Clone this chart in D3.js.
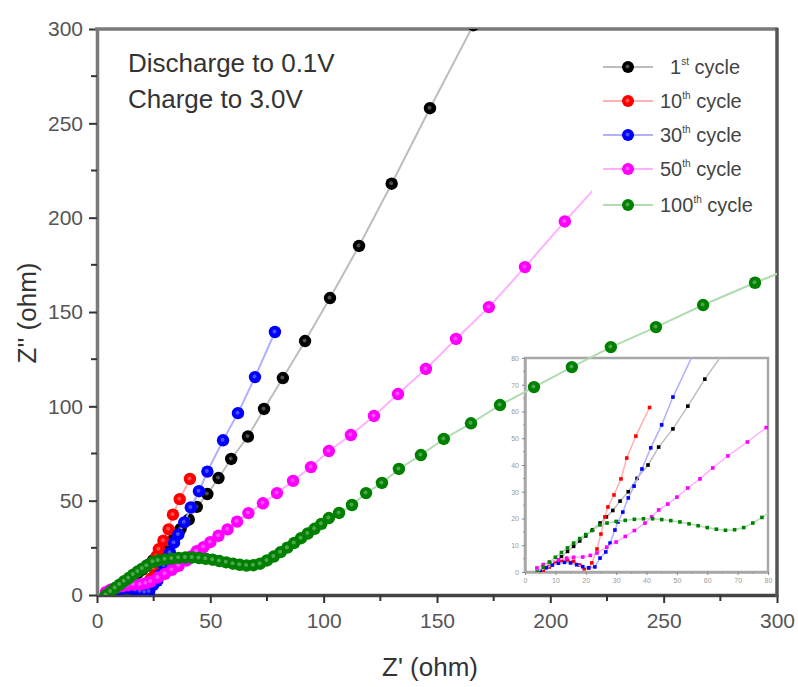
<!DOCTYPE html>
<html><head><meta charset="utf-8">
<script src="https://cdn.jsdelivr.net/npm/d3@7"></script>
<style>body{margin:0;background:#fff}svg{display:block;font-family:"Liberation Sans",Arial,sans-serif}</style>
</head><body><svg id="c" width="798" height="687"></svg>
<script>
const seriesNames = ["1st cycle","10th cycle","30th cycle","50th cycle","100th cycle"];
const legendNum = ["1","10","30","50","100"];
const legendSup = ["st","th","th","th","th"];
const colors = ["#000000","#ff0000","#0000ff","#ff00ff","#008000"];
const lineColors = ["#bdbdbd","#ffb0b0","#b0b0ff","#ffb0ff","#b0dcb0"];
const cycle1X = [6,8,10,12,14,16,18,20,22.3,24.7,26.8,28.9,31.3,34,36.9,40.5,44,48.7,53.6,59.2,66.6,73.7,82,91.8,102.8,115.6,130,146.9,166];
const cycle1Y = [0.5,2,3.8,5.7,7.7,9.6,11.6,13.5,15.8,18.3,20.6,23,26.5,30,35,40,46.7,53.5,62,72.1,84,98.6,115,134.6,157.4,185,218,258,302];
const cycle10X = [6,8,10,12,14,16,18,19.5,21,22,23.7,25,26.3,27.3,29.3,31.6,33.5,36.5,41];
const cycle10Y = [0.5,2,3.7,4.3,4.5,4,2.6,1.2,1.5,3.4,8.6,14.2,20.6,24.3,28.8,34.8,42.6,50.8,61.5];
const cycle30X = [5,7,9,11,13,15,17,19,21,23,24.7,26.6,28,29.6,30.6,32.2,34,35.9,38.5,41.4,45,48.7,55.6,62.2,69.7,78.5];
const cycle30Y = [0.5,1.6,2.6,3.3,3.6,3.4,2.7,2,1.6,1.9,5.2,7.5,10.8,15.7,18.7,22.4,27.7,32.1,38.5,46.4,55,65.4,82,96.4,115.5,139.4];
const cycle50X = [3.9,6,8.2,11,13.7,16,19,21.5,23.7,26.9,30,33,36,39.5,41.7,44,47,50,53.6,57.6,61.8,66.8,73.2,79.4,86.5,94.4,102.3,112,122.2,132.8,145.1,158.4,172.9,188.8,206.4,226];
const cycle50Y = [1.5,2.8,3.7,4.6,5.2,5.5,5.6,6.2,7.1,9.3,11.2,13.3,15.5,18.3,20.6,23.2,25.4,28,31.4,34.8,38.9,43.4,48.6,54,60.5,67.8,76.3,84.8,94.9,106.5,119.8,135.7,152.6,173.8,198,224];
const cycle100X = [4,6,8,10,12,14,16,18,20,22,24.7,27,30,33,36,39,42,45,48,51,54,57,60,63,66,69,72,75,78,81,84,87,90,93,96,99,102.3,106.8,112.5,118.7,125.7,133.2,142.9,153,165,177.8,192.8,209.5,226.7,246.6,267.4,290.3,316];
const cycle100Y = [0,1.8,3.7,5.5,7.3,9,10.8,12.5,14,15.5,17.6,18.3,18.9,19.3,19.7,19.9,19.9,19.6,19.2,18.7,18,17.3,16.6,16,15.6,15.8,16.6,18.3,20.4,22.7,25.1,27.6,30.1,32.6,35.1,37.7,40.8,43.5,47.7,54,59.4,66.8,74.2,82.7,91,100.7,110.2,120.8,131.4,142,153.7,165.5,178];
const mainTicks = [0,50,100,150,200,250,300];
const minorTicks = [25,75,125,175,225,275];
const insetTicks = [0,10,20,30,40,50,60,70,80];
const annotation = ["Discharge to 0.1V","Charge to 3.0V"];

const xs = [cycle1X,cycle10X,cycle30X,cycle50X,cycle100X];
const ys = [cycle1Y,cycle10Y,cycle30Y,cycle50Y,cycle100Y];
const data = xs.map((xa,i)=>xa.map((v,j)=>({x:v,y:ys[i][j]})));

const svg = d3.select("#c");
const x = d3.scaleLinear().domain([0,300]).range([97,777]);
const y = d3.scaleLinear().domain([0,300]).range([595,29]);
const ix = d3.scaleLinear().domain([0,80]).range([525,768]);
const iy = d3.scaleLinear().domain([0,80]).range([572,358]);

const defs = svg.append("defs");
defs.append("clipPath").attr("id","mc").append("rect").attr("x",97).attr("y",29).attr("width",680).attr("height",566);
defs.append("clipPath").attr("id","ic").append("rect").attr("x",525).attr("y",358).attr("width",243).attr("height",214);

// ---- inset ----
const ins = svg.append("g");
ins.append("rect").attr("x",525).attr("y",358).attr("width",243).attr("height",214).attr("fill","#fff").attr("stroke","#a8a8a8").attr("stroke-width",2.5);
const iax = ins.append("g").attr("transform","translate(0,572)").call(d3.axisBottom(ix).tickValues(insetTicks).tickSize(3).tickSizeOuter(0));
const iay = ins.append("g").attr("transform","translate(525,0)").call(d3.axisLeft(iy).tickValues(insetTicks).tickSize(3).tickSizeOuter(0));
[iax,iay].forEach(g=>{g.select(".domain").attr("stroke","#a8a8a8").attr("stroke-width",2.5);
  g.selectAll(".tick line").attr("stroke","#888");
  g.selectAll(".tick text").attr("fill","#999").attr("font-size",7);});
const iminor = d3.range(5,80,10);
ins.append("g").selectAll("line").data(iminor).join("line").attr("x1",d=>ix(d)).attr("x2",d=>ix(d)).attr("y1",572).attr("y2",574).attr("stroke","#999");
ins.append("g").selectAll("line").data(iminor).join("line").attr("y1",d=>iy(d)).attr("y2",d=>iy(d)).attr("x1",525).attr("x2",523).attr("stroke","#999");
const ig = ins.append("g").attr("clip-path","url(#ic)");
data.forEach((s,i)=>{
  ig.append("path").datum(s).attr("fill","none").attr("stroke",lineColors[i]).attr("stroke-width",1.5)
    .attr("d",d3.line().x(d=>ix(d.x)).y(d=>iy(d.y)));
  ig.append("g").selectAll("rect").data(s).join("rect").attr("x",d=>ix(d.x)-1.8).attr("y",d=>iy(d.y)-1.8)
    .attr("width",3.6).attr("height",3.6).attr("fill",colors[i]);
});

// ---- main axes ----
const ax = svg.append("g").attr("transform","translate(0,595)").call(d3.axisBottom(x).tickValues(mainTicks).tickSize(8).tickSizeOuter(0).tickPadding(10));
const ay = svg.append("g").attr("transform","translate(97,0)").call(d3.axisLeft(y).tickValues(mainTicks).tickSize(8).tickSizeOuter(0).tickPadding(6));
[ax,ay].forEach(g=>{g.select(".domain").attr("stroke","#7a7a7a").attr("stroke-width",3.5);
  g.selectAll(".tick line").attr("stroke","#333").attr("stroke-width",2);
  g.selectAll(".tick text").attr("fill","#555").attr("font-size",21).attr("font-family","Liberation Sans, Arial");});
ax.select(".domain").attr("stroke","#444");
svg.append("g").selectAll("line").data(minorTicks).join("line").attr("x1",d=>x(d)).attr("x2",d=>x(d)).attr("y1",595).attr("y2",601).attr("stroke","#333").attr("stroke-width",2);
svg.append("g").selectAll("line").data(minorTicks).join("line").attr("y1",d=>y(d)).attr("y2",d=>y(d)).attr("x1",97).attr("x2",91).attr("stroke","#333").attr("stroke-width",2);
svg.append("line").attr("x1",95).attr("x2",778).attr("y1",y(300)).attr("y2",y(300)).attr("stroke","#7a7a7a").attr("stroke-width",3.5);
svg.append("line").attr("x1",x(300)).attr("x2",x(300)).attr("y1",28).attr("y2",597).attr("stroke","#555").attr("stroke-width",3.5);

svg.append("text").attr("x",430).attr("y",676).attr("text-anchor","middle").attr("font-size",26).attr("fill","#333").text("Z' (ohm)");
svg.append("text").attr("transform","translate(36,313) rotate(-90)").attr("text-anchor","middle").attr("font-size",26).attr("fill","#333").text("Z'' (ohm)");
svg.append("g").selectAll("text").data(annotation).join("text").attr("x",128).attr("y",(d,i)=>72+i*36)
  .attr("font-size",26).attr("fill","#333").text(d=>d);

// ---- main series ----
const mg = svg.append("g").attr("clip-path","url(#mc)");
data.forEach((s,i)=>{
  mg.append("path").datum(s).attr("fill","none").attr("stroke",lineColors[i]).attr("stroke-width",2)
    .attr("d",d3.line().x(d=>x(d.x)).y(d=>y(d.y)));
  const g = mg.append("g");
  g.selectAll("circle.m").data(s).join("circle").attr("class","m").attr("cx",d=>x(d.x)).attr("cy",d=>y(d.y)).attr("r",6.2).attr("fill",colors[i]);
  g.selectAll("circle.h").data(s).join("circle").attr("class","h").attr("cx",d=>x(d.x)-0.5).attr("cy",d=>y(d.y)-0.5).attr("r",2).attr("fill","#fff").attr("opacity",0.3);
});

// ---- legend ----
const lg = svg.append("g");
lg.append("rect").attr("x",592).attr("y",45).attr("width",182).attr("height",175).attr("fill","#fff");
const ly = [67,101,135,169,205];
seriesNames.forEach((n,i)=>{
  const r = lg.append("g").attr("transform",`translate(0,${ly[i]})`);
  r.append("line").attr("x1",603).attr("x2",653).attr("stroke",lineColors[i]).attr("stroke-width",2);
  r.append("circle").attr("cx",628).attr("r",6).attr("fill",colors[i]);
  r.append("circle").attr("cx",627.5).attr("cy",-0.5).attr("r",2).attr("fill","#fff").attr("opacity",0.3);
  const t = r.append("text").attr("x",i===0?670:660).attr("y",7).attr("font-size",20).attr("fill","#444");
  t.append("tspan").text(legendNum[i]);
  t.append("tspan").attr("font-size",10).attr("dy",-9).text(legendSup[i]);
  t.append("tspan").attr("dy",9).text(" cycle");
});
</script></body></html>
